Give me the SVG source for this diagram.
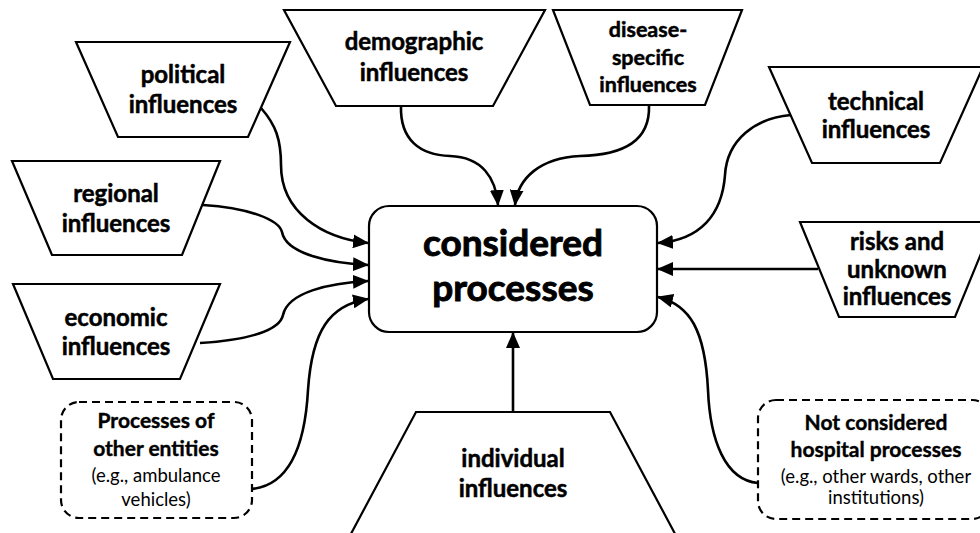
<svg xmlns="http://www.w3.org/2000/svg" width="980" height="533" viewBox="0 0 980 533">
  <style>
    .shape { fill: #ffffff; stroke: #000000; stroke-width: 2.2; stroke-linejoin: miter; }
    .dash { fill: #ffffff; stroke: #000000; stroke-width: 2.2; stroke-dasharray: 8 5; }
    .lbl { font-family: Lato, "Liberation Sans", sans-serif; font-weight: bold; font-size: 24px; fill: #000000; stroke: #000000; stroke-width: 0.5; text-anchor: middle; }
    .sm { font-size: 21.5px; }
    .big { font-size: 37px; stroke-width: 0.9; }
    .sub { font-size: 21px; stroke-width: 0.4; }
    .note { font-family: Lato, "Liberation Sans", sans-serif; font-weight: normal; font-size: 18.5px; fill: #000000; text-anchor: middle; }
    .link { fill: none; stroke: #000000; stroke-width: 2.6; marker-end: url(#arrow); }
  </style>
  <defs>
    <marker id="arrow" markerUnits="userSpaceOnUse" markerWidth="16" markerHeight="14" viewBox="0 0 16 14" refX="15" refY="7" orient="auto">
      <path d="M0,0 L16,7 L0,14 Z" fill="#000000"/>
    </marker>
  </defs>

  <!-- connectors -->
  <g id="connectors">
    <path class="link" d="M261,108 C276,125 281,140 281,165 C281,212 322,238 368,243"/>
    <path class="link" d="M203,205 C250,208 279,220 282,232 C286,254 330,263 368,265"/>
    <path class="link" d="M200,343 C250,340 280,330 283,315 C288,292 330,283 368,281"/>
    <path class="link" d="M252,489 C290,485 305,445 308,390 C312,330 330,305 368,299"/>
    <path class="link" d="M401,106 C400,140 420,155 450,156 C482,157 496,178 498,205"/>
    <path class="link" d="M649,106 C650,140 625,155 580,156 C540,158 518,178 515,205"/>
    <path class="link" d="M791,115 C755,118 727,140 725,175 C722,215 700,240 658,243"/>
    <path class="link" d="M818,269 L658,269"/>
    <path class="link" d="M758,483 C725,480 710,440 708,390 C705,330 690,305 658,297"/>
    <path class="link" d="M513,412 L513,333"/>
  </g>

  <!-- central process node -->
  <g id="considered-processes">
    <rect class="shape" x="369" y="206" width="288" height="126" rx="20" ry="20"/>
    <text class="lbl big" x="513" y="256">considered</text>
    <text class="lbl big" x="513" y="301">processes</text>
  </g>

  <!-- influence nodes -->
  <g id="political">
    <polygon class="shape" points="76,42 290,42 248,137 118,137"/>
    <text class="lbl" x="183" y="83">political</text>
    <text class="lbl" x="183" y="113">influences</text>
  </g>
  <g id="regional">
    <polygon class="shape" points="12,161 220,161 182,255 52,255"/>
    <text class="lbl" x="116" y="202">regional</text>
    <text class="lbl" x="116" y="232">influences</text>
  </g>
  <g id="economic">
    <polygon class="shape" points="13,284 220,284 180,379 53,379"/>
    <text class="lbl" x="116" y="326">economic</text>
    <text class="lbl" x="116" y="355">influences</text>
  </g>
  <g id="demographic">
    <polygon class="shape" points="284,10 545,10 493,106 336,106"/>
    <text class="lbl" x="414" y="50">demographic</text>
    <text class="lbl" x="414" y="81">influences</text>
  </g>
  <g id="disease-specific">
    <polygon class="shape" points="553,10 742,10 705,105 590,105"/>
    <text class="lbl sm" x="648" y="37">disease-</text>
    <text class="lbl sm" x="648" y="65">specific</text>
    <text class="lbl sm" x="648" y="92">influences</text>
  </g>
  <g id="technical">
    <polygon class="shape" points="769,67 983,67 940,163 812,163"/>
    <text class="lbl" x="876" y="110">technical</text>
    <text class="lbl" x="876" y="138">influences</text>
  </g>
  <g id="risks">
    <polygon class="shape" points="800,222 994,222 955,317 839,317"/>
    <text class="lbl" x="897" y="250">risks and</text>
    <text class="lbl" x="897" y="278">unknown</text>
    <text class="lbl" x="897" y="305">influences</text>
  </g>
  <g id="individual">
    <polygon class="shape" points="416,412 610,412 681,545 345,545"/>
    <text class="lbl" x="513" y="467">individual</text>
    <text class="lbl" x="513" y="497">influences</text>
  </g>

  <!-- external process nodes -->
  <g id="other-entities">
    <rect class="dash" x="61" y="402" width="191" height="116" rx="18" ry="18"/>
    <text class="lbl sub" x="156" y="428">Processes of</text>
    <text class="lbl sub" x="156" y="456">other entities</text>
    <text class="note" x="156" y="482">(e.g., ambulance</text>
    <text class="note" x="156" y="506">vehicles)</text>
  </g>
  <g id="other-hospital">
    <rect class="dash" x="758" y="400" width="232" height="119" rx="18" ry="18"/>
    <text class="lbl sub" x="876" y="430">Not considered</text>
    <text class="lbl sub" x="876" y="457">hospital processes</text>
    <text class="note" x="876" y="483">(e.g., other wards, other</text>
    <text class="note" x="876" y="504">institutions)</text>
  </g>
</svg>
